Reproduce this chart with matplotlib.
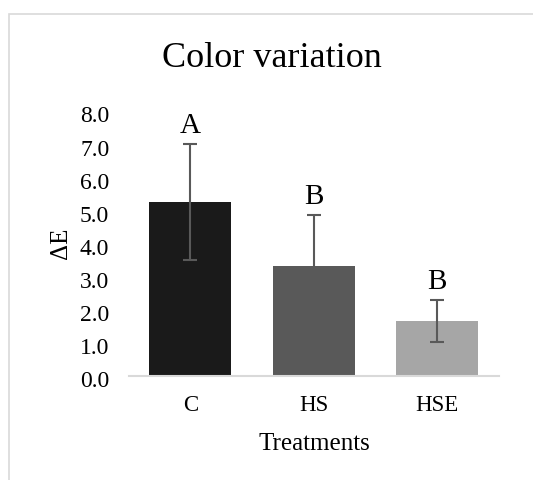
import numpy as np
import matplotlib.pyplot as plt
import matplotlib.transforms as mtransforms
from matplotlib.patches import Rectangle

plt.rcParams['font.family'] = ['Liberation Serif', 'DejaVu Serif']

treatments = ['C', 'HS', 'HSE']
delta_e = [5.27, 3.33, 1.67]
errors = [1.75, 1.55, 0.64]
groups = ['A', 'B', 'B']
bar_colors = ['#1a1a1a', '#595959', '#a6a6a6']

fig = plt.figure(figsize=(5.33, 4.81), dpi=100)

# light frame around the chart area, as in the spreadsheet export
fig.patches.append(Rectangle((9/533, -0.1), 2, (481-15)/481 + 0.1,
                             transform=fig.transFigure, fill=False,
                             edgecolor='#d9d9d9', linewidth=1.2))

ax = fig.add_axes([0.2415, 0.2156, 0.694, 0.5506])
x = np.arange(len(treatments))
ax.bar(x, delta_e, width=0.665, color=bar_colors, zorder=2)
ax.errorbar(x, delta_e, yerr=errors, fmt='none', ecolor='#595959',
            elinewidth=1.5, capsize=5, capthick=1.5, zorder=3)

for xi, v, e, g in zip(x, delta_e, errors, groups):
    ax.annotate(g, (xi, v + e), xytext=(0, 4), textcoords='offset points',
                ha='center', va='bottom', fontsize=21)

ax.set_xlim(-0.5, 2.5)
ax.set_ylim(0, 8)
ax.set_yticks(np.arange(0, 9, 1))
ax.set_yticklabels(['%.1f' % v for v in np.arange(0, 9, 1)])
ax.set_xticks(x)
ax.set_xticklabels(treatments)
ax.tick_params(axis='y', length=0, pad=14, labelsize=17)
ax.tick_params(axis='x', length=0, pad=13, labelsize=16.5)

# excel puts the value labels a touch below the gridline position
shift = mtransforms.ScaledTranslation(0, -2/100, fig.dpi_scale_trans)
for lbl in ax.get_yticklabels():
    lbl.set_transform(lbl.get_transform() + shift)

for s in ['top', 'right', 'left']:
    ax.spines[s].set_visible(False)
ax.spines['bottom'].set_color('#d9d9d9')
ax.spines['bottom'].set_linewidth(1.5)

fig.text(0.51, 0.879, 'Color variation', ha='center', va='center', fontsize=26)
fig.text(0.114, 0.495, 'ΔE', ha='center', va='center', rotation=90, fontsize=18)
fig.text(0.589, 0.077, 'Treatments', ha='center', va='center', fontsize=18)

fig.savefig('out.png', dpi=100)
